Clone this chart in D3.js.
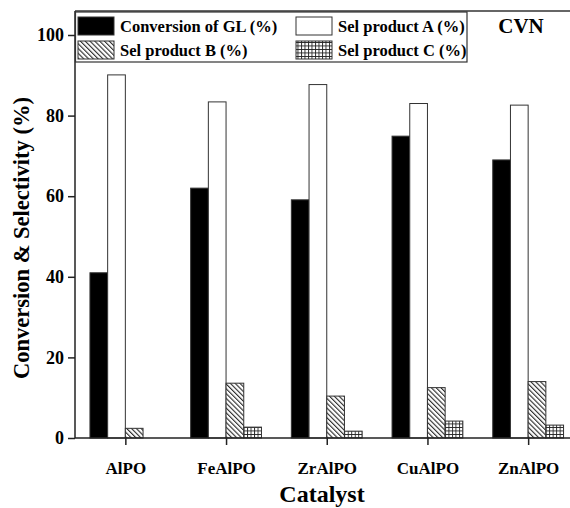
<!DOCTYPE html>
<html>
<head>
<meta charset="utf-8">
<script src="https://cdn.jsdelivr.net/npm/d3@7"></script>
<style>
  html, body { margin: 0; padding: 0; background: #fff; }
  svg { display: block; }
  svg text { font-family: "Liberation Serif", "Times New Roman", Times, "DejaVu Serif", serif !important; font-weight: bold; }
</style>
</head>
<body>
<svg id="chart" width="570" height="508"></svg>
<script>
// Catalysts and measured values (%)
const categories = ["AlPO", "FeAlPO", "ZrAlPO", "CuAlPO", "ZnAlPO"];
const seriesNames = ["Conversion of GL (%)", "Sel product A (%)", "Sel product B (%)", "Sel product C (%)"];
const conversionGL = [41.0, 62.0, 59.1, 74.9, 69.0];
const selProductA = [90.1, 83.4, 87.7, 83.0, 82.6];
const selProductB = [2.4, 13.6, 10.4, 12.5, 14.0];
const selProductC = [0, 2.7, 1.7, 4.2, 3.2];
const yTicks = [0, 20, 40, 60, 80, 100];

const seriesValues = [conversionGL, selProductA, selProductB, selProductC];
const fills = ["#000", "#fff", "url(#hatchB)", "url(#gridC)"];

const svg = d3.select("#chart");
const plot = { left: 75, right: 578.5, top: 11, bottom: 438 };

// Fill patterns
const defs = svg.append("defs");
const hatch = defs.append("pattern")
  .attr("id", "hatchB").attr("patternUnits", "userSpaceOnUse")
  .attr("width", 3.4).attr("height", 3.4)
  .attr("patternTransform", "rotate(-45)");
hatch.append("rect").attr("width", 3.4).attr("height", 3.4).attr("fill", "#fff");
hatch.append("line").attr("x1", 0.6).attr("y1", 0).attr("x2", 0.6).attr("y2", 3.4)
  .attr("stroke", "#111").attr("stroke-width", 1);

const grid = defs.append("pattern")
  .attr("id", "gridC").attr("patternUnits", "userSpaceOnUse")
  .attr("width", 3.5).attr("height", 3.5);
grid.append("rect").attr("width", 3.5).attr("height", 3.5).attr("fill", "#fff");
grid.append("path").attr("d", "M0.5,0V3.5M0,0.5H3.5")
  .attr("stroke", "#222").attr("stroke-width", 0.9).attr("fill", "none");

// Scales
const x0 = d3.scalePoint().domain(categories).range([plot.left, plot.right]).padding(0.5);
const x1 = d3.scaleBand().domain(d3.range(seriesNames.length)).range([-35.4, 35.4]);
const y = d3.scaleLinear().domain([0, 100]).range([plot.bottom, 35]);

// Bars
const groups = svg.append("g").selectAll("g").data(categories).join("g")
  .attr("transform", d => `translate(${x0(d)},0)`);
groups.selectAll("rect")
  .data((c, ci) => seriesValues.map((vals, si) => ({ si, v: vals[ci] })).filter(d => d.v > 0))
  .join("rect")
  .attr("x", d => x1(d.si))
  .attr("width", x1.bandwidth())
  .attr("y", d => y(d.v))
  .attr("height", d => y(0) - y(d.v))
  .attr("fill", d => fills[d.si])
  .attr("stroke", "#333").attr("stroke-width", 1);

// Frame top
svg.append("line").attr("x1", plot.left).attr("x2", 570).attr("y1", plot.top).attr("y2", plot.top)
  .attr("stroke", "#333").attr("stroke-width", 1.5);

// Axes
const yAxis = svg.append("g").attr("transform", `translate(${plot.left},0)`)
  .call(d3.axisLeft(y).tickValues(yTicks).tickSize(7).tickPadding(4).tickFormat(d3.format("d")));
yAxis.select(".domain").attr("d", `M0,${plot.top}V${plot.bottom}`);
yAxis.selectAll("path, line").attr("stroke", "#222").attr("stroke-width", 1.5);
yAxis.selectAll("text").attr("font-size", 18).attr("fill", "#000");

const xAxis = svg.append("g").attr("transform", `translate(0,${plot.bottom})`)
  .call(d3.axisBottom(x0).tickSize(7).tickPadding(17));
xAxis.select(".domain").attr("d", `M${plot.left},0H${plot.right}`);
xAxis.selectAll("path, line").attr("stroke", "#222").attr("stroke-width", 1.5);
xAxis.selectAll("text").attr("font-size", 17).attr("fill", "#000");

// Axis titles
svg.append("text")
  .attr("transform", `translate(29,238) rotate(-90)`)
  .attr("text-anchor", "middle").attr("font-size", 22.5).text("Conversion & Selectivity (%)");
svg.append("text")
  .attr("x", 322).attr("y", 502)
  .attr("text-anchor", "middle").attr("font-size", 24).text("Catalyst");

// Panel label
svg.append("text").attr("x", 521).attr("y", 33)
  .attr("text-anchor", "middle").attr("font-size", 21).text("CVN");

// Legend
const legend = svg.append("g");
legend.append("rect").attr("x", 75.5).attr("y", 12).attr("width", 391.5).attr("height", 50)
  .attr("fill", "#fff").attr("stroke", "#333").attr("stroke-width", 1.2);
const legendPos = [[78, 17], [296, 17], [78, 41], [296, 41]];
seriesNames.forEach((name, si) => {
  const [lx, ly] = legendPos[si];
  legend.append("rect").attr("x", lx).attr("y", ly).attr("width", 36).attr("height", 18)
    .attr("fill", fills[si]).attr("stroke", "#333").attr("stroke-width", 1);
  legend.append("text").attr("x", lx + 42).attr("y", ly + 15)
    .attr("font-size", 16.5).text(name);
});
</script>
</body>
</html>
